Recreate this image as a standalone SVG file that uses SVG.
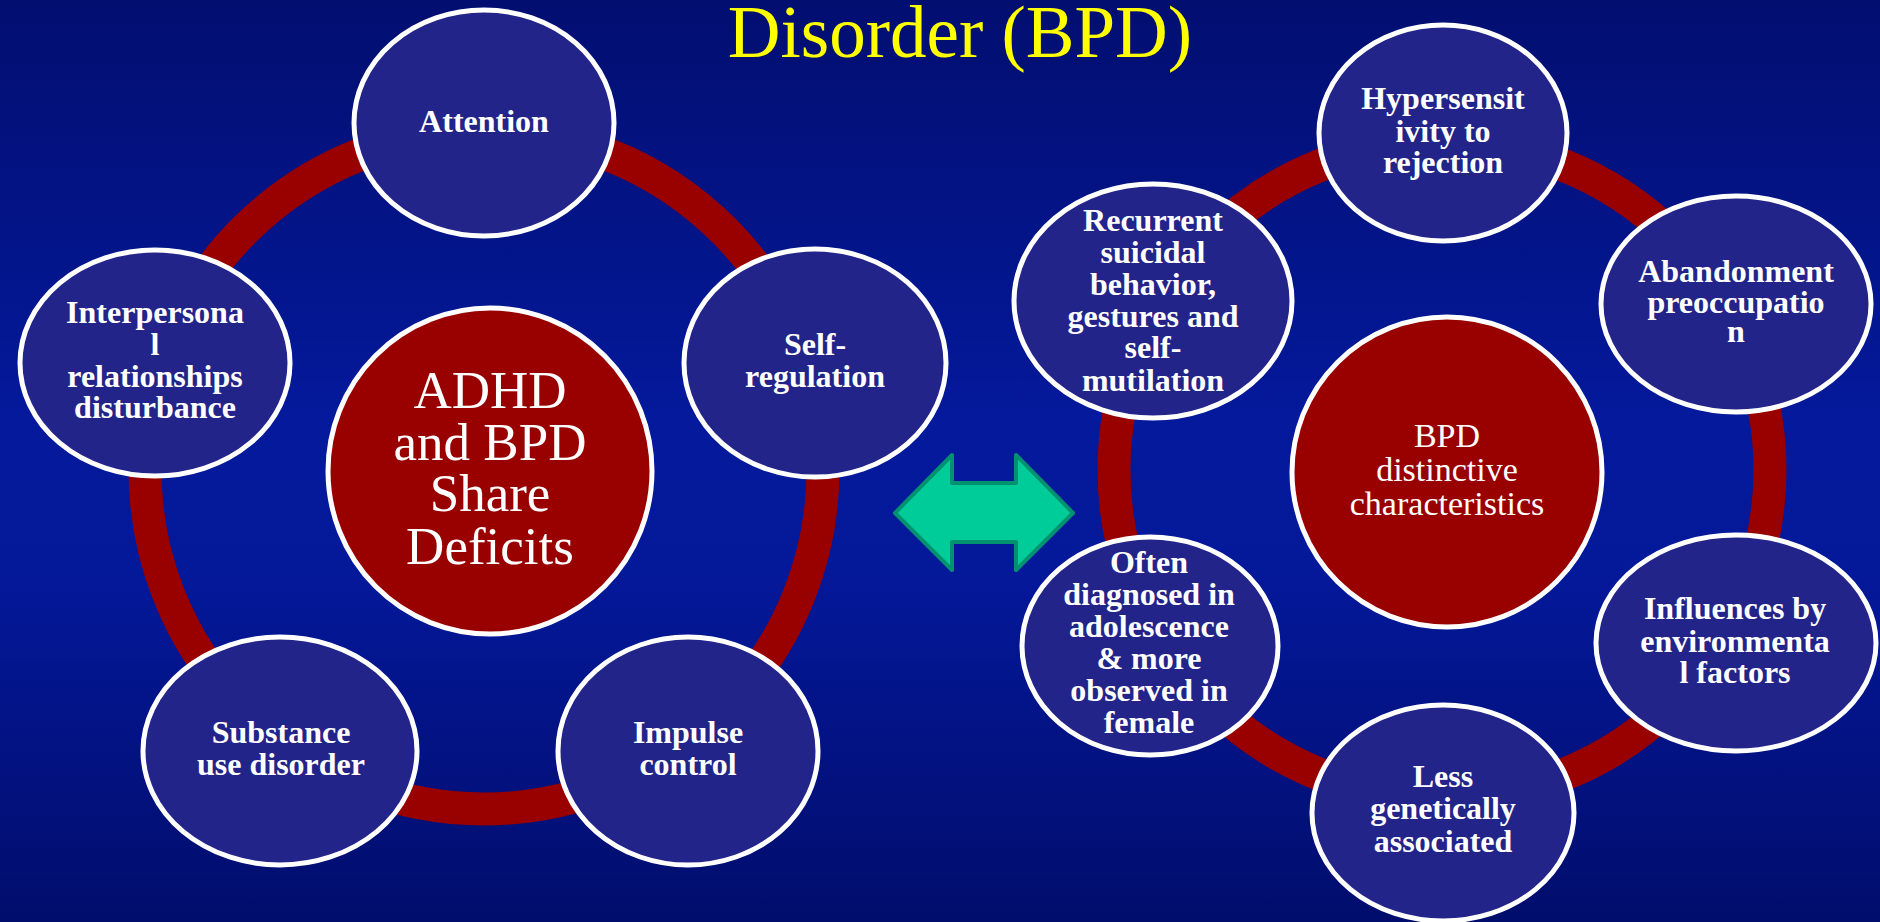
<svg xmlns="http://www.w3.org/2000/svg" width="1880" height="922" viewBox="0 0 1880 922">
  <defs>
    <linearGradient id="bg" x1="0" y1="0" x2="0" y2="1">
      <stop offset="0" stop-color="#020e70"/>
      <stop offset="0.45" stop-color="#04199b"/>
      <stop offset="0.62" stop-color="#04189a"/>
      <stop offset="1" stop-color="#010d6c"/>
    </linearGradient>
    <style>
      .ring { fill: none; stroke: #990000; stroke-width: 33; }
      .sat { fill: #232489; stroke: #ffffff; stroke-width: 5; }
      .hub { fill: #990000; stroke: #ffffff; stroke-width: 5; }
      .st { font-family: "Liberation Serif", "Times New Roman", serif; font-weight: bold; font-size: 32px; fill: #ffffff; text-anchor: middle; }
      .ht { font-family: "Liberation Serif", "Times New Roman", serif; fill: #ffffff; text-anchor: middle; }
      .title { font-family: "Liberation Serif", "Times New Roman", serif; font-size: 73px; fill: #ffff00; text-anchor: middle; }
      .arrow { fill: #00cc99; stroke: #009270; stroke-width: 4; stroke-linejoin: round; }
    </style>
  </defs>

  <rect x="0" y="0" width="1880" height="922" fill="url(#bg)"/>

  <text class="title" x="960" y="57">Disorder (BPD)</text>

  <!-- rings linking the satellite nodes -->
  <g id="connectors">
    <circle class="ring" cx="484" cy="470" r="339"/>
    <circle class="ring" cx="1442" cy="470" r="328"/>
  </g>

  <!-- left cluster -->
  <g id="adhd-bpd-hub">
    <ellipse class="hub" cx="490" cy="471" rx="162" ry="163"/>
    <text class="ht" font-size="53" x="490"><tspan x="490" y="408">ADHD</tspan><tspan x="490" y="460">and BPD</tspan><tspan x="490" y="511">Share</tspan><tspan x="490" y="564">Deficits</tspan></text>
  </g>
  <g id="attention">
    <ellipse class="sat" cx="484" cy="123" rx="130" ry="113"/>
    <text class="st" x="484" y="132">Attention</text>
  </g>
  <g id="self-regulation">
    <ellipse class="sat" cx="815" cy="363" rx="131" ry="114"/>
    <text class="st"><tspan x="815" y="355">Self-</tspan><tspan x="815" y="387">regulation</tspan></text>
  </g>
  <g id="impulse-control">
    <ellipse class="sat" cx="688" cy="751" rx="130" ry="114"/>
    <text class="st"><tspan x="688" y="743">Impulse</tspan><tspan x="688" y="775">control</tspan></text>
  </g>
  <g id="substance-use">
    <ellipse class="sat" cx="280" cy="751" rx="137" ry="114"/>
    <text class="st"><tspan x="281" y="743">Substance</tspan><tspan x="281" y="775">use disorder</tspan></text>
  </g>
  <g id="interpersonal">
    <ellipse class="sat" cx="155" cy="363" rx="135" ry="113"/>
    <text class="st"><tspan x="155" y="323">Interpersona</tspan><tspan x="155" y="355">l</tspan><tspan x="155" y="387">relationships</tspan><tspan x="155" y="418">disturbance</tspan></text>
  </g>

  <!-- double-headed arrow between the clusters -->
  <g id="link-arrow">
    <path class="arrow" d="M895,513 L952,455 L952,483 L1016,483 L1016,455 L1073,513 L1016,570 L1016,542 L952,542 L952,570 Z"/>
  </g>

  <!-- right cluster -->
  <g id="bpd-hub">
    <ellipse class="hub" cx="1447" cy="472" rx="155" ry="155"/>
    <text class="ht" font-size="34"><tspan x="1447" y="447">BPD</tspan><tspan x="1447" y="481">distinctive</tspan><tspan x="1447" y="515">characteristics</tspan></text>
  </g>
  <g id="hypersensitivity">
    <ellipse class="sat" cx="1443" cy="133" rx="124" ry="108"/>
    <text class="st"><tspan x="1443" y="109">Hypersensit</tspan><tspan x="1443" y="142">ivity to</tspan><tspan x="1443" y="173">rejection</tspan></text>
  </g>
  <g id="abandonment">
    <ellipse class="sat" cx="1736" cy="304" rx="135" ry="108"/>
    <text class="st"><tspan x="1736" y="282">Abandonment</tspan><tspan x="1736" y="313">preoccupatio</tspan><tspan x="1736" y="342">n</tspan></text>
  </g>
  <g id="environmental">
    <ellipse class="sat" cx="1736" cy="643" rx="140" ry="108"/>
    <text class="st"><tspan x="1735" y="619">Influences by</tspan><tspan x="1735" y="652">environmenta</tspan><tspan x="1735" y="683">l factors</tspan></text>
  </g>
  <g id="genetics">
    <ellipse class="sat" cx="1443" cy="813" rx="131" ry="108"/>
    <text class="st"><tspan x="1443" y="787">Less</tspan><tspan x="1443" y="819">genetically</tspan><tspan x="1443" y="852">associated</tspan></text>
  </g>
  <g id="adolescence">
    <ellipse class="sat" cx="1150" cy="646" rx="128" ry="109"/>
    <text class="st"><tspan x="1149" y="573">Often</tspan><tspan x="1149" y="605">diagnosed in</tspan><tspan x="1149" y="637">adolescence</tspan><tspan x="1149" y="669">&amp; more</tspan><tspan x="1149" y="701">observed in</tspan><tspan x="1149" y="733">female</tspan></text>
  </g>
  <g id="suicidal-behavior">
    <ellipse class="sat" cx="1153" cy="301" rx="139" ry="117"/>
    <text class="st"><tspan x="1153" y="231">Recurrent</tspan><tspan x="1153" y="263">suicidal</tspan><tspan x="1153" y="295">behavior,</tspan><tspan x="1153" y="327">gestures and</tspan><tspan x="1153" y="358">self-</tspan><tspan x="1153" y="391">mutilation</tspan></text>
  </g>
</svg>
